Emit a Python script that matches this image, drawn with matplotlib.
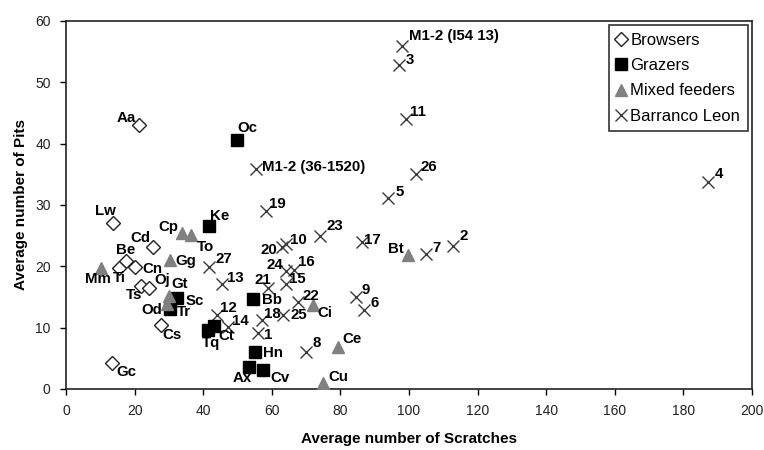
import matplotlib
matplotlib.use("Agg")
import matplotlib.pyplot as plt

plt.rcParams['font.family'] = ['Liberation Sans', 'DejaVu Sans']

# ---- data ----
browser_labels = ["Aa", "Lw", "Cd", "Be", "Ti", "Cn", "Ts", "Oj", "Cs", "Gc"]
browser_x = [21.3, 13.8, 25.3, 17.5, 15.5, 20.1, 21.9, 24.3, 27.6, 13.5]
browser_y = [43.0, 27.0, 23.2, 20.9, 19.8, 19.9, 16.8, 16.4, 10.4, 4.2]

grazer_labels = ["Oc", "Ke", "Sc", "Tr", "Tq", "Ct", "Bb", "Hn", "Ax", "Cv"]
grazer_x = [49.9, 41.8, 32.5, 30.3, 41.3, 43.1, 54.4, 55.1, 53.4, 57.5]
grazer_y = [40.6, 26.5, 14.8, 13.0, 9.7, 10.2, 14.7, 6.1, 3.6, 3.1]

mixed_labels = ["Cp", "To", "Gg", "Mm", "Gt", "Od", "Bt", "Ci", "Ce", "Cu"]
mixed_x = [33.7, 36.3, 30.3, 10.1, 30.0, 29.4, 99.6, 72.1, 79.2, 75.0]
mixed_y = [25.5, 25.1, 21.0, 19.8, 15.2, 13.8, 21.8, 13.7, 6.9, 0.9]

bl_labels = ["M1-2 (I54 13)", "3", "11", "26", "5", "M1-2 (36-1520)", "4", "19",
             "23", "17", "10", "20", "16", "24", "15", "21", "22", "25", "18",
             "1", "9", "6", "8", "7", "2", "27", "13", "12", "14"]
bl_x = [97.9, 97.2, 99.1, 102.0, 94.0, 55.4, 187.1, 58.3,
        74.1, 86.2, 64.1, 62.9, 66.6, 64.1, 64.1, 58.8, 67.7, 63.4, 57.0,
        56.1, 84.6, 86.9, 70.0, 105.0, 112.7, 41.7, 45.4, 43.9, 47.3]
bl_y = [55.9, 52.9, 44.0, 35.1, 31.2, 35.8, 33.8, 29.0,
        24.9, 24.0, 23.7, 23.1, 19.4, 19.3, 17.2, 16.4, 14.2, 12.1, 11.2,
        9.1, 15.0, 12.9, 6.0, 22.0, 23.3, 19.9, 17.1, 12.1, 10.1]

x_ticks = [0, 20, 40, 60, 80, 100, 120, 140, 160, 180, 200]
y_ticks = [0, 10, 20, 30, 40, 50, 60]

# ---- label offsets (pixels: dx, dy, ha) ----
offsets = {
    "Aa": (-3, 7, "right"), "Lw": (-8, 12, "center"), "Cd": (-2, 9, "right"),
    "Be": (0, 11, "center"), "Ti": (0, -10, "center"), "Cn": (7, -2, "left"),
    "Ts": (1, -9, "right"), "Oj": (5, 8, "left"), "Cs": (2, -10, "left"),
    "Gc": (4, -9, "left"),
    "Oc": (0, 12, "left"), "Ke": (1, 10, "left"), "Sc": (8, -3, "left"),
    "Tr": (7, -3, "left"), "Tq": (3, -13, "center"), "Ct": (5, -10, "left"),
    "Bb": (9, -1, "left"), "Hn": (8, -1, "left"), "Ax": (3, -11, "right"),
    "Cv": (7, -8, "left"),
    "Cp": (-3, 6, "right"), "To": (6, -12, "left"), "Gg": (5, -1, "left"),
    "Mm": (-3, -11, "center"), "Gt": (2, 12, "left"), "Od": (-5, -6, "right"),
    "Bt": (-4, 6, "right"), "Ci": (4, -8, "left"), "Ce": (5, 8, "left"),
    "Cu": (5, 6, "left"),
    "M1-2 (I54 13)": (7, 10, "left"), "3": (6, 5, "left"), "11": (4, 7, "left"),
    "26": (5, 7, "left"), "5": (7, 6, "left"), "M1-2 (36-1520)": (6, 2, "left"),
    "4": (7, 8, "left"), "19": (3, 7, "left"), "23": (6, 10, "left"),
    "17": (2, 2, "left"), "10": (4, 4, "left"), "20": (-4, -3, "right"),
    "16": (4, 8, "left"), "24": (-3, 6, "right"), "15": (3, 5, "left"),
    "21": (-5, 8, "center"), "22": (4, 6, "left"), "25": (7, 0, "left"),
    "18": (2, 6, "left"), "1": (6, -2, "left"), "9": (5, 7, "left"),
    "6": (6, 7, "left"), "8": (6, 9, "left"), "7": (6, 6, "left"),
    "2": (7, 10, "left"), "27": (6, 8, "left"), "13": (5, 6, "left"),
    "12": (3, 7, "left"), "14": (4, 6, "left"),
}

fig = plt.figure(figsize=(7.64, 4.5), dpi=100)
ax = fig.add_axes([66 / 764, 1 - 389 / 450, (752 - 66) / 764, (389 - 21) / 450])

ax.plot(bl_x, bl_y, linestyle="none", marker="x", ms=8.5, mew=1.0,
        color="#3a3a3a", label="Barranco Leon", zorder=3)
ax.plot(browser_x, browser_y, linestyle="none", marker="D", ms=6.8, mew=1.0,
        mfc="white", mec="#222222", label="Browsers", zorder=4)
ax.plot(grazer_x, grazer_y, linestyle="none", marker="s", ms=8.5,
        mfc="black", mec="black", label="Grazers", zorder=4)
ax.plot(mixed_x, mixed_y, linestyle="none", marker="^", ms=9,
        mfc="#808080", mec="#808080", label="Mixed feeders", zorder=5)

for labels, xs, ys in [(browser_labels, browser_x, browser_y),
                       (grazer_labels, grazer_x, grazer_y),
                       (mixed_labels, mixed_x, mixed_y),
                       (bl_labels, bl_x, bl_y)]:
    for lab, xv, yv in zip(labels, xs, ys):
        dx, dy, ha = offsets[lab]
        ax.annotate(lab, (xv, yv), xytext=(dx * 0.72, dy * 0.72),
                    textcoords="offset points", ha=ha, va="center",
                    fontsize=10.8, fontweight="bold", color="black", zorder=6)

ax.set_xlim(0, 200)
ax.set_ylim(0, 60)
ax.set_xticks(x_ticks)
ax.set_yticks(y_ticks)
ax.tick_params(axis="both", direction="out", length=4, width=1,
               labelsize=10, labelcolor="#222222")
ax.tick_params(axis="x", pad=7)
ax.tick_params(axis="y", pad=7)
for sp in ax.spines.values():
    sp.set_linewidth(1.2)
    sp.set_color("#222222")

ax.set_xlabel("Average number of Scratches", fontsize=11, fontweight="bold",
              labelpad=10)
ax.set_ylabel("Average number of Pits", fontsize=11, fontweight="bold",
              labelpad=5)

handles, labs = ax.get_legend_handles_labels()
order = [1, 2, 3, 0]
leg = ax.legend([handles[i] for i in order], [labs[i] for i in order],
                loc="upper right", fontsize=12, frameon=True, fancybox=False,
                edgecolor="black", borderaxespad=0.25, handlelength=0.6,
                handletextpad=0.25, labelspacing=0.62, borderpad=0.45)
leg.get_frame().set_linewidth(1.2)

fig.savefig("out.png", dpi=100)
